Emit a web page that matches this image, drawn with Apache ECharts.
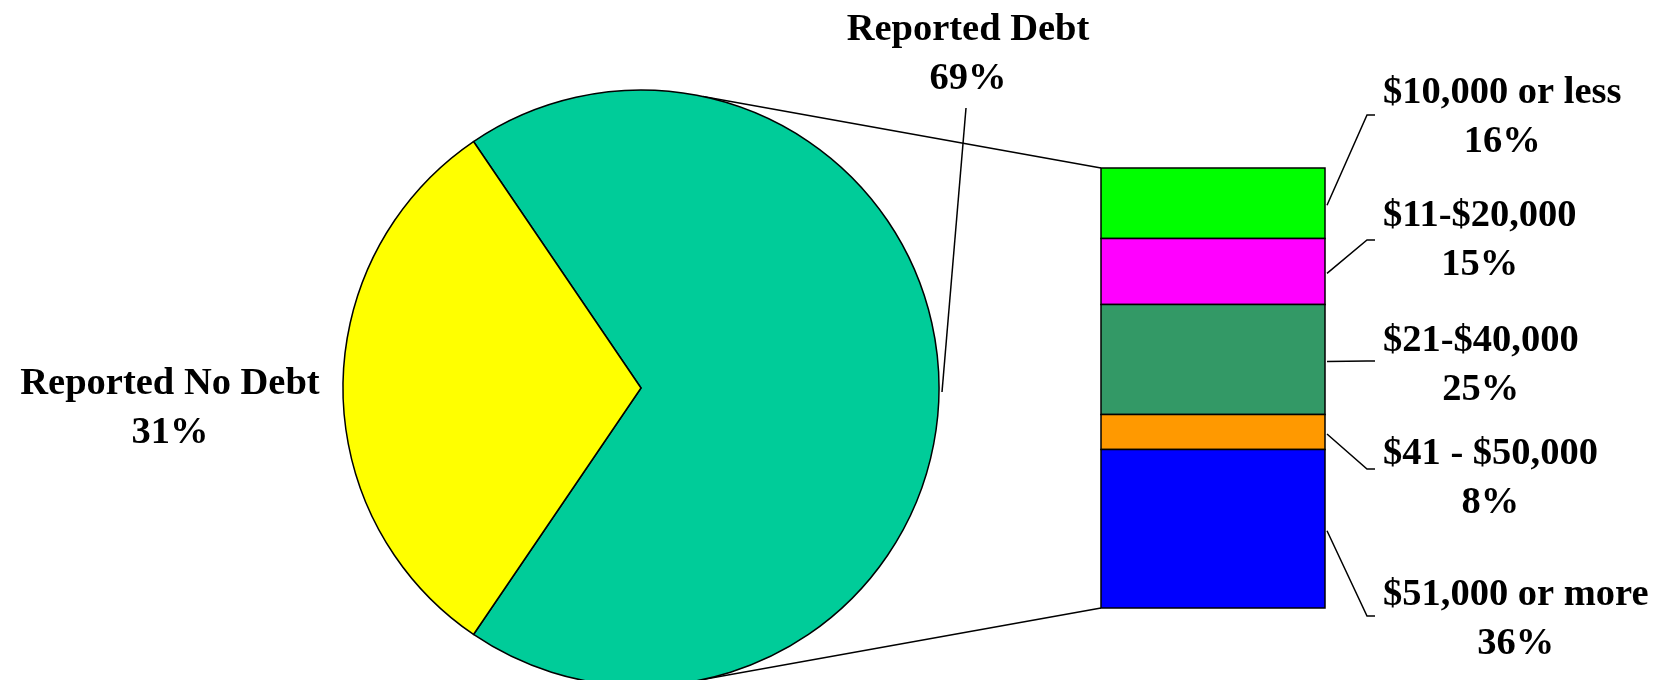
<!DOCTYPE html>
<html>
<head>
<meta charset="utf-8">
<title>Reported debt</title>
<script src="https://cdn.jsdelivr.net/npm/echarts@6/dist/echarts.min.js"></script>
<style>
  html, body { margin: 0; padding: 0; background: #fff; }
  #chart { width: 1671px; height: 680px; }
</style>
</head>
<body>
<div id="chart"></div>
<script>
// data
const pieNames = ['Reported Debt', 'Reported No Debt'];
const pieValues = [69, 31];
const debtBands = ['$10,000 or less', '$11-$20,000', '$21-$40,000', '$41 - $50,000', '$51,000 or more'];
const debtShares = [16, 15, 25, 8, 36];

// look
const pieColors = ['#00CC99', '#FFFF00'];
const bandColors = ['#00FF00', '#FF00FF', '#339966', '#FF9900', '#0000FF'];
const FONT = '"Liberation Serif", "Times New Roman", serif';
const FONT_SIZE = 38.5;
const LINE_H = 49;

// layout
const PIE_CX = 641, PIE_CY = 388, PIE_R = 298;
const BAR_LEFT = 1101, BAR_TOP = 168, BAR_W = 224, BAR_H = 440;
const bandLabelY = [118, 241, 366, 479, 620];
const bandElbowY = [115, 240, 361, 469, 616];

// stack the bands top to bottom
let acc = 0;
const bandData = debtShares.map((v, i) => {
  const row = [0, acc, acc + v, i];
  acc += v;
  return row;
});

const measure = document.createElement('canvas').getContext('2d');
measure.font = 'bold ' + FONT_SIZE + 'px ' + FONT;
const textW = s => measure.measureText(s).width;

// centre the small slice on the left (9 o'clock)
const pieStart = 180 - pieValues[1] / 100 * 180;

const chart = echarts.init(document.getElementById('chart'));

// lines from the pie to the bar
const rad = 78 * Math.PI / 180;
const upPt = [PIE_CX + PIE_R * Math.cos(rad), PIE_CY - PIE_R * Math.sin(rad)];
const lowPt = [PIE_CX + PIE_R * Math.cos(rad), PIE_CY + PIE_R * Math.sin(rad)];

chart.setOption({
  animation: false,
  backgroundColor: '#fff',
  grid: { left: BAR_LEFT, top: BAR_TOP, width: BAR_W, height: BAR_H },
  xAxis: { type: 'category', data: ['Reported Debt'], show: false },
  yAxis: { type: 'value', min: 0, max: 100, inverse: true, show: false },
  graphic: [
    { type: 'line', z: 1, shape: { x1: upPt[0], y1: upPt[1], x2: BAR_LEFT, y2: BAR_TOP },
      style: { stroke: '#000', lineWidth: 1.5 } },
    { type: 'line', z: 1, shape: { x1: lowPt[0], y1: lowPt[1], x2: BAR_LEFT, y2: BAR_TOP + BAR_H },
      style: { stroke: '#000', lineWidth: 1.5 } }
  ],
  series: [
    {
      type: 'pie',
      z: 3,
      center: [PIE_CX, PIE_CY],
      radius: PIE_R,
      startAngle: pieStart,
      clockwise: true,
      silent: true,
      avoidLabelOverlap: false,
      itemStyle: { borderColor: '#000', borderWidth: 1.5 },
      label: {
        show: true,
        formatter: '{b}\n{c}%',
        fontFamily: FONT, fontWeight: 'bold', fontSize: FONT_SIZE,
        lineHeight: LINE_H, color: '#000'
      },
      labelLine: { show: true, lineStyle: { color: '#000', width: 1.5 } },
      labelLayout: function (params) {
        if (params.dataIndex === 0) {
          const p0 = params.labelLinePoints ? params.labelLinePoints[0] : [PIE_CX + PIE_R, PIE_CY];
          return {
            x: 968, y: 55, align: 'center', verticalAlign: 'middle',
            labelLinePoints: [[p0[0] + 3, p0[1] + 4], [966, 108], [966, 108]]
          };
        }
        return { x: 170, y: 409, align: 'center', verticalAlign: 'middle' };
      },
      data: pieNames.map((n, i) => ({
        name: n,
        value: pieValues[i],
        itemStyle: { color: pieColors[i] },
        labelLine: { show: i === 0 }
      }))
    },
    {
      type: 'custom',
      z: 3,
      silent: true,
      encode: { x: 0, y: [1, 2] },
      data: bandData,
      renderItem: function (params, api) {
        const i = api.value(3);
        const top = api.coord([0, api.value(1)]);
        const bot = api.coord([0, api.value(2)]);
        const bw = api.size([1, 0])[0];
        const x = top[0] - bw / 2;
        const right = x + bw;
        const midY = (top[1] + bot[1]) / 2;
        const text = debtBands[i] + '\n' + debtShares[i] + '%';
        return {
          type: 'group',
          children: [
            {
              type: 'rect',
              shape: { x: x, y: top[1], width: bw, height: bot[1] - top[1] },
              style: { fill: bandColors[i], stroke: '#000', lineWidth: 1.5 }
            },
            {
              type: 'polyline',
              shape: { points: [[right + 2, midY + 2], [right + 42, bandElbowY[i]], [right + 50, bandElbowY[i]]] },
              style: { stroke: '#000', lineWidth: 1.5, fill: null }
            },
            {
              type: 'text',
              style: {
                text: text,
                x: right + 58 + textW(debtBands[i]) / 2,
                y: bandLabelY[i],
                align: 'center', verticalAlign: 'middle',
                fontFamily: FONT, fontWeight: 'bold', fontSize: FONT_SIZE,
                lineHeight: LINE_H, fill: '#000'
              }
            }
          ]
        };
      }
    }
  ]
});
</script>
</body>
</html>
